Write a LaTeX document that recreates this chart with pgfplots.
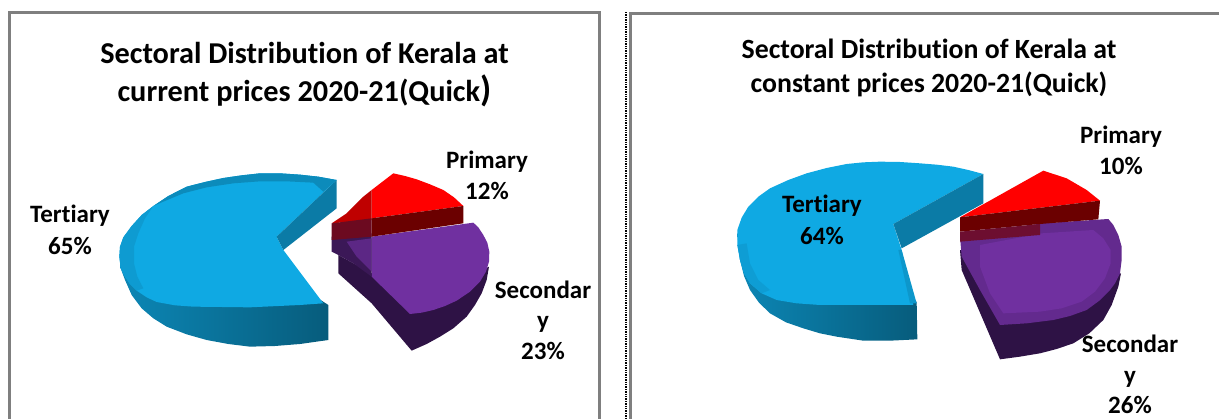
\documentclass[border=0pt]{standalone}
\usepackage{pgfplots}
\pgfplotsset{compat=1.18}
\usepackage{fontspec}
\setmainfont[Ligatures=NoCommon]{Carlito}
\definecolor{tcy}{HTML}{0FA9E3}
\definecolor{tcyl}{HTML}{10AEE6}
\definecolor{tw}{HTML}{0B7BA6}
\definecolor{tdk}{HTML}{075C7C}
\definecolor{pur}{HTML}{7030A0}
\definecolor{purd}{HTML}{2E1245}
\definecolor{rd}{HTML}{FF0000}
\definecolor{rdd}{HTML}{6B0000}
\definecolor{frm}{HTML}{7F7F7F}
\pgfplotsset{base/.style={scale only axis,width=1219pt,height=419pt,hide axis,y dir=reverse,clip=true,anchor=north west,at={(0,0)}}}
\newcommand{\lab}[4]{\node[font=\fontsize{#4}{#4}\selectfont\bfseries,text=black,inner sep=0pt,anchor=center] at (axis cs:#1,#2) {#3};}
\begin{document}
\begin{tikzpicture}
% left pie, coordinates in 3x units with origin at pixel (100,140)
\begin{axis}[base,xmin=-300,xmax=3357,ymin=-420,ymax=837]
\addplot[draw=none,left color=tw!75!tcy,right color=tdk] coordinates {(60,340)(62,385)(75,420)(95,465)(125,505)(160,535)(200,560)(260,583)(320,600)(385,612)(450,620)(525,618)(600,612)(685,600)(685,495)(600,440)(100,440)} -- cycle;
\addplot[draw=none,fill=tcy] coordinates {(710,120)(655,110)(600,104)(540,100)(480,100)(425,106)(370,114)(315,126)(260,140)(205,168)(160,198)(125,225)(95,258)(70,292)(60,320)(58,350)(62,385)(75,410)(90,432)(110,452)(140,472)(170,486)(225,496)(280,500)(450,502)(600,495)(670,490)(550,330)(530,290)} -- cycle;
\addplot[draw=none,fill=tw] coordinates {(710,120)(710,205)(550,330)(530,290)} -- cycle;
\addplot[draw=none,fill=tw!65!tcy] coordinates {(710,120)(655,110)(600,104)(540,100)(480,100)(425,106)(370,114)(315,126)(260,140)(205,168)(160,198)(190,185)(250,160)(320,142)(400,130)(480,124)(560,124)(640,128)(670,155)} -- cycle;
\addplot[draw=none,fill=tcy!70!tw] coordinates {(160,198)(125,225)(95,258)(70,292)(60,320)(58,350)(62,385)(75,410)(90,432)(110,452)(130,445)(112,410)(102,370)(102,320)(115,280)(135,235)} -- cycle;
% secondary
\addplot[draw=none,fill=purd] coordinates {(1167,380)(1160,420)(1145,460)(1125,495)(1100,530)(1060,565)(1020,590)(980,612)(935,632)(815,490)(715,400)(715,345)(815,400)(930,500)} -- cycle;
\addplot[draw=none,fill=pur] coordinates {(815,290)(1120,248)(1135,262)(1150,285)(1162,308)(1168,335)(1167,365)(1158,395)(1140,425)(1110,455)(1070,482)(1035,498)(1000,510)(965,518)(930,522)(815,410)} -- cycle;
\addplot[draw=none,fill=purd!80!pur] coordinates {(695,290)(815,280)(815,410)(760,370)(715,345)(695,335)} -- cycle;
\addplot[draw=none,fill=pur!70!purd] coordinates {(740,305)(815,295)(815,395)(770,350)} -- cycle;
% primary
\addplot[draw=none,fill=rd] coordinates {(880,100)(915,108)(950,118)(990,133)(1030,150)(1062,172)(1090,198)(815,235)(815,150)} -- cycle;
\addplot[draw=none,fill=rdd] coordinates {(815,235)(1090,198)(1090,250)(815,290)} -- cycle;
\addplot[draw=none,fill=rd!75!black] coordinates {(815,150)(790,170)(740,220)(695,250)(815,240)} -- cycle;
\addplot[draw=none,fill=rdd!80!pur] coordinates {(695,250)(815,235)(815,290)(695,300)} -- cycle;
\end{axis}
% right pie, coordinates in 3x units with origin at pixel (720,150)
\begin{axis}[base,xmin=-2160,xmax=1497,ymin=-450,ymax=807]
\addplot[draw=none,left color=tw!75!tcy,right color=tdk] coordinates {(52,250)(60,330)(72,378)(90,420)(117,458)(150,490)(198,517)(250,535)(300,550)(350,560)(430,572)(510,572)(592,568)(590,455)(300,440)} -- cycle;
\addplot[draw=none,fill=tcy] coordinates {(790,72)(745,60)(700,50)(650,44)(600,40)(540,36)(480,35)(430,37)(380,42)(320,54)(260,70)(205,90)(150,115)(115,140)(85,170)(65,203)(52,240)(52,285)(60,330)(72,370)(90,400)(125,430)(170,450)(230,460)(300,465)(580,465)(545,300)(520,222)} -- cycle;
\addplot[draw=none,fill=tcy!75!tw] coordinates {(52,285)(60,330)(72,370)(90,400)(125,430)(150,420)(115,390)(90,340)(80,280)} -- cycle;
\addplot[draw=none,fill=tw] coordinates {(790,72)(790,160)(545,295)(520,222)} -- cycle;
\addplot[draw=none,fill=tcy!60!tw] coordinates {(545,300)(590,460)(570,460)(535,300)} -- cycle;
% secondary
\addplot[draw=none,fill=purd] coordinates {(720,300)(725,360)(840,628)(900,620)(960,610)(1010,597)(1060,580)(1108,550)(1150,510)(1175,465)(1195,410)(1203,370)(1100,400)} -- cycle;
\addplot[draw=none,fill=pur!80!purd] coordinates {(720,260)(965,220)(1165,207)(1180,225)(1195,255)(1205,290)(1205,330)(1200,370)(1185,400)(1170,420)(1138,452)(1100,480)(1050,498)(1000,510)(920,520)(840,525)(780,420)(725,320)} -- cycle;
\addplot[draw=none,fill=pur] coordinates {(780,285)(965,250)(1120,240)(1150,265)(1172,300)(1172,340)(1155,385)(1125,425)(1085,455)(1025,475)(960,485)(850,490)(810,430)(780,350)} -- cycle;
% primary
\addplot[draw=none,fill=rd] coordinates {(970,62)(1040,85)(1100,120)(1140,152)(720,202)} -- cycle;
\addplot[draw=none,fill=rdd] coordinates {(720,202)(1140,152)(1135,208)(960,222)(720,245)} -- cycle;
\addplot[draw=none,fill=rdd!70!pur] coordinates {(720,245)(960,222)(960,255)(720,275)} -- cycle;
\end{axis}
% frames and text, coordinates in pixels
\begin{axis}[base,xmin=0,xmax=1219,ymin=0,ymax=419]
\path (axis cs:0,0) rectangle (axis cs:1219,419);
\addplot[draw=frm,line width=2.6pt] coordinates {(9.4,419)(9.4,12.2)(599.3,12.2)(599.3,419)};
\addplot[draw=frm,line width=2.6pt] coordinates {(630.5,419)(630.5,13.3)(1219,13.3)};
\addplot[draw=black,line width=1.4pt,densely dotted] coordinates {(626,12)(626,419)};
\lab{304.5}{53}{Sectoral Distribution of Kerala at}{30.3}
\lab{304.5}{91}{current prices 2020-21(Quick{\fontsize{36}{36}\selectfont)}}{30.3}
\lab{929}{49}{Sectoral Distribution of Kerala at}{27.8}
\lab{929}{84}{constant prices 2020-21(Quick)}{27.8}
\lab{487}{162}{Primary}{25}
\lab{487}{191}{12\%}{25}
\lab{70}{216}{Tertiary}{25}
\lab{70}{246}{65\%}{25}
\lab{543}{290}{Secondar}{25}
\lab{543}{324}{y}{25}
\lab{543}{351}{23\%}{25}
\lab{1121}{137}{Primary}{25}
\lab{1121}{166}{10\%}{25}
\lab{822}{206}{Tertiary}{25}
\lab{822}{236}{64\%}{25}
\lab{1130}{344}{Secondar}{25}
\lab{1130}{379}{y}{25}
\lab{1130}{405}{26\%}{25}
\end{axis}
\end{tikzpicture}
\end{document}
